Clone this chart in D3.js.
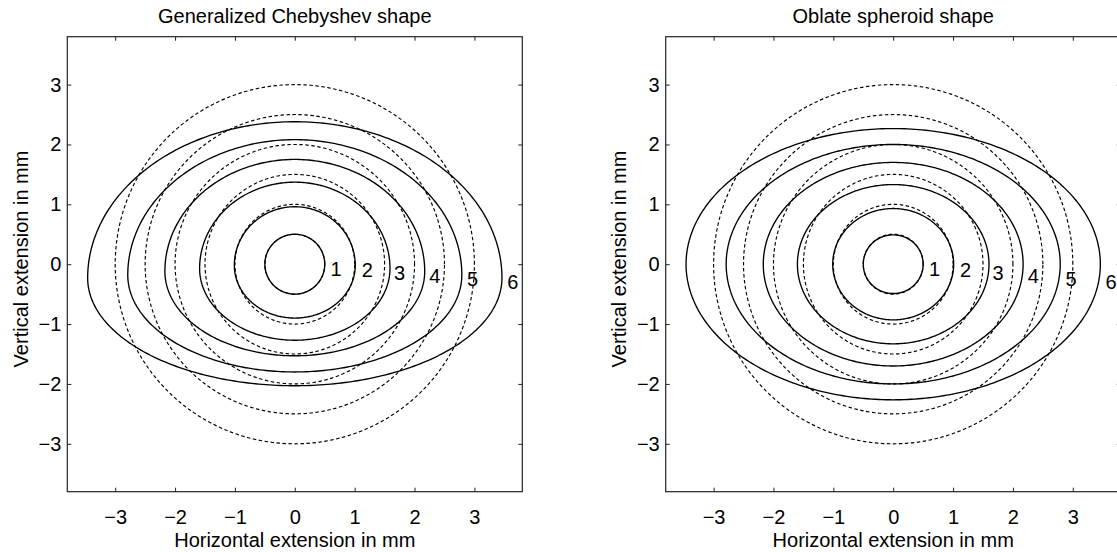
<!DOCTYPE html>
<html>
<head>
<meta charset="utf-8">
<script src="https://cdn.jsdelivr.net/npm/d3@7"></script>
<style>
	body { margin: 0; background: #fff; }
	text { font-family: "Liberation Sans", Arial, Helvetica, sans-serif; fill: #000; }
</style>
</head>
<body>
<div id="chart"></div>
<script>
// axis ticks, both axes
var tickValues = [-3, -2, -1, 0, 1, 2, 3];

// equivolume sphere radii (dashed circles), mm
var sphereRadii = [0.5, 1, 1.5, 2, 2.5, 3];

// drop numbers and where they sit
var dropLabels = ["1", "2", "3", "4", "5", "6"];
var labelX = [0.69, 1.21, 1.75, 2.34, 2.97, 3.64];
var labelY = [-0.07, -0.10, -0.15, -0.20, -0.25, -0.30];

// generalized Chebyshev outlines
var chebHalfWidth = [0.50, 1.01, 1.59, 2.17, 2.79, 3.46];
var chebWidestY   = [0.00, -0.02, -0.07, -0.12, -0.18, -0.23];
var chebTop       = [0.50, 0.96, 1.37, 1.75, 2.08, 2.38];
var chebBottom    = [-0.50, -0.90, -1.27, -1.53, -1.80, -2.03];

// oblate spheroid semi axes
var oblateA = [0.50, 1.01, 1.60, 2.17, 2.79, 3.46];
var oblateB = [0.49, 0.93, 1.33, 1.70, 2.00, 2.265];

var titles = ["Generalized Chebyshev shape", "Oblate spheroid shape"];

var width = 1117, height = 552,
	panelLeft = [67.3, 665.7],
	panelTop = 36.7,
	panelSize = 455,
	domain = [-3.8, 3.8],
	fontSize = 20;

var svgContainer = d3.select("#chart")
	.append("svg")
	.attr("width", width)
	.attr("height", height);

svgContainer.append("rect")
	.attr("width", width)
	.attr("height", height)
	.attr("fill", "#fff");

function onLoad() {
	drawPanel(0, chebOutlines());
	drawPanel(1, oblateOutlines());
}

////////////////////////////////////
////////////SHAPES//////////////////
////////////////////////////////////

// upper and lower half ellipses joined at the widest line
function chebOutlines() {
	return chebHalfWidth.map(function (w, i) {
		var pts = [];
		for (var k = 0; k < 360; k++) {
			var t = k / 360 * 2 * Math.PI;
			var s = Math.sin(t);
			var h = s >= 0 ? chebTop[i] - chebWidestY[i] : chebWidestY[i] - chebBottom[i];
			pts.push({x: w * Math.cos(t), y: chebWidestY[i] + h * s});
		}
		return pts;
	});
}

function oblateOutlines() {
	return oblateA.map(function (a, i) {
		return ellipse(a, oblateB[i]);
	});
}

function ellipse(a, b) {
	var pts = [];
	for (var k = 0; k < 360; k++) {
		var t = k / 360 * 2 * Math.PI;
		pts.push({x: a * Math.cos(t), y: b * Math.sin(t)});
	}
	return pts;
}

////////////////////////////////////
////////////DRAWING/////////////////
////////////////////////////////////

function drawPanel(p, outlines) {
	var x0 = panelLeft[p];
	var xScale = d3.scaleLinear().domain(domain).range([x0, x0 + panelSize]);
	var yScale = d3.scaleLinear().domain(domain).range([panelTop + panelSize, panelTop]);

	var line = d3.line()
		.x(function (d) { return xScale(d.x); })
		.y(function (d) { return yScale(d.y); })
		.curve(d3.curveLinearClosed);

	var g = svgContainer.append("g");

	// dashed spheres
	g.selectAll("path.sphere")
		.data(sphereRadii)
		.enter().append("path")
		.attr("class", "sphere")
		.attr("d", function (r) { return line(ellipse(r, r)); })
		.attr("fill", "none")
		.attr("stroke", "#000")
		.attr("stroke-width", 1.15)
		.attr("stroke-dasharray", "3.5,2.5");

	// solid drop outlines
	g.selectAll("path.drop")
		.data(outlines)
		.enter().append("path")
		.attr("class", "drop")
		.attr("d", line)
		.attr("fill", "none")
		.attr("stroke", "#000")
		.attr("stroke-width", 1.35);

	// drop numbers
	g.selectAll("text.num")
		.data(dropLabels)
		.enter().append("text")
		.attr("class", "num")
		.attr("x", function (d, i) { return xScale(labelX[i]); })
		.attr("y", function (d, i) { return yScale(labelY[i]); })
		.attr("dy", "0.36em")
		.attr("text-anchor", "middle")
		.style("font-size", fontSize + "px")
		.text(function (d) { return d; });

	drawAxes(g, xScale, yScale);

	// box
	g.append("rect")
		.attr("x", x0)
		.attr("y", panelTop)
		.attr("width", panelSize)
		.attr("height", panelSize)
		.attr("fill", "none")
		.attr("stroke", "#222")
		.attr("stroke-width", 1.2);

	g.append("text")
		.attr("x", x0 + panelSize / 2)
		.attr("y", 23)
		.attr("text-anchor", "middle")
		.style("font-size", fontSize + "px")
		.text(titles[p]);

	g.append("text")
		.attr("x", x0 + panelSize / 2)
		.attr("y", 547)
		.attr("text-anchor", "middle")
		.style("font-size", fontSize + "px")
		.text("Horizontal extension in mm");

	g.append("text")
		.attr("transform", "translate(" + (x0 - 39.5) + ",259) rotate(-90)")
		.attr("text-anchor", "middle")
		.style("font-size", fontSize + "px")
		.text("Vertical extension in mm");
}

function drawAxes(g, xScale, yScale) {
	var fmt = function (d) { return d < 0 ? "\u2212" + (-d) : String(d); };
	var b = panelTop + panelSize;
	var l = xScale.range()[0], r = xScale.range()[1];

	var axes = [
		{axis: d3.axisBottom(xScale).tickPadding(18.6).tickFormat(fmt), t: "translate(0," + b + ")"},
		{axis: d3.axisTop(xScale).tickFormat(""), t: "translate(0," + panelTop + ")"},
		{axis: d3.axisLeft(yScale).tickPadding(6).tickFormat(fmt), t: "translate(" + l + ",0)"},
		{axis: d3.axisRight(yScale).tickFormat(""), t: "translate(" + r + ",0)"}
	];

	axes.forEach(function (a) {
		var ag = g.append("g")
			.attr("transform", a.t)
			.call(a.axis.tickValues(tickValues).tickSizeInner(-4).tickSizeOuter(0));
		ag.select(".domain").remove();
		ag.selectAll("line").attr("stroke", "#222");
		ag.selectAll("text")
			.style("font-size", fontSize + "px")
			.style("font-family", "'Liberation Sans', Arial, sans-serif")
			.attr("fill", "#000");
	});
}

onLoad();
</script>
</body>
</html>
